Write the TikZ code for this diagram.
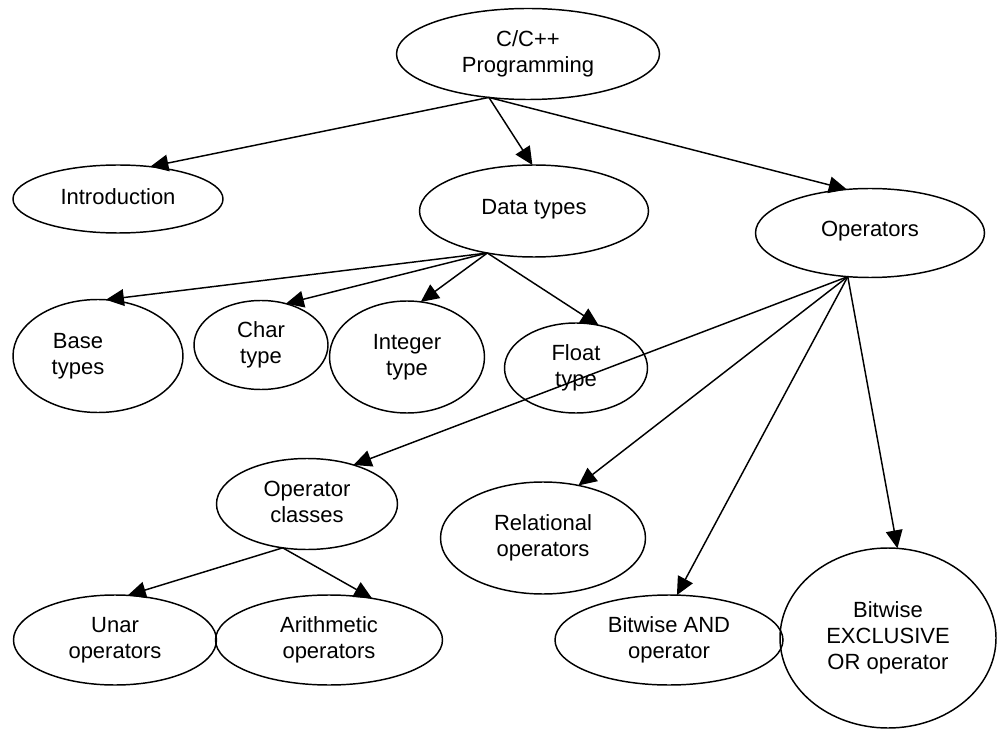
\documentclass[tikz,border=0pt]{standalone}
\usepackage{fontspec}
\setmainfont{Liberation Sans}
\usetikzlibrary{shapes.geometric,arrows.meta}

\newcommand{\lift}[2]{\raisebox{#1}{\begin{tabular}{@{}c@{}}#2\end{tabular}}}

\begin{document}
\begin{tikzpicture}[x=0.75pt, y=-0.75pt, >={Triangle[length=13.5pt,width=12.5pt]}, line width=1.1pt,
        topic/.style={ellipse, draw, inner sep=0pt, outer sep=0pt, font=\fontsize{16.5}{19.5}\selectfont},
        dims/.style 2 args={minimum width=#1*0.75pt, minimum height=#2*0.75pt}]
    \useasboundingbox (0,0) rectangle (998,730);

    % top levels
    \node[topic, dims={263}{91}]   (prog)   at (528,54)  {\lift{-2.5pt}{C/C++\\Programming}};
    \node[topic, dims={210}{68}]   (intro)  at (118,199) {\lift{1.5pt}{Introduction}};
    \node[topic, dims={229}{92}]   (dtypes) at (534,211) {\lift{7.5pt}{Data types}};
    \node[topic, dims={229}{89}]   (ops)    at (870,233) {\lift{8pt}{Operators}};

    % data types
    \node[topic, dims={170}{113}]  (base)   at (98,356)  {\lift{3pt}{Base\\types}\hspace*{30pt}};
    \node[topic, dims={134}{89}]   (chr)    at (261,345) {\lift{-3pt}{Char\\type}};
    \node[topic, dims={155}{112}]  (intg)   at (407,357) {\lift{4pt}{Integer\\type}};
    \node[topic, dims={143}{90}]   (flt)    at (576,368) {\lift{-1.5pt}{Float\\type}};

    % operators
    \node[topic, dims={181}{91}]   (opcls)  at (307,504) {\lift{0pt}{Operator\\classes}};
    \node[topic, dims={205}{112}]  (rel)    at (543,538) {\lift{4pt}{Relational\\operators}};
    \node[topic, dims={203}{90}]   (unar)   at (115,640) {\lift{0pt}{Unar\\operators}};
    \node[topic, dims={227}{90}]   (arith)  at (329,640) {\lift{0pt}{Arithmetic\\operators}};
    \node[topic, dims={228}{90}]   (band)   at (669,640) {\lift{0pt}{Bitwise AND\\operator}};
    \node[topic, dims={216}{180}]  (bxor)   at (888,638) {\lift{11pt}{Bitwise\\EXCLUSIVE\\OR operator}};

    \path[->] (prog.228)   edge (intro.45)
                           edge (dtypes.92)
                           edge (ops.118);
    \path[->] (dtypes.222) edge (base.82)
                           edge (chr.59)
                           edge (intg.76)
                           edge (flt.62);
    \path[->] (ops.243)    edge (opcls.40)
                           edge (rel.56)
                           edge (band.80)
                           edge (bxor.84);
    \path[->] (opcls.241)  edge (unar.74)
                           edge (arith.44);
\end{tikzpicture}
\end{document}
